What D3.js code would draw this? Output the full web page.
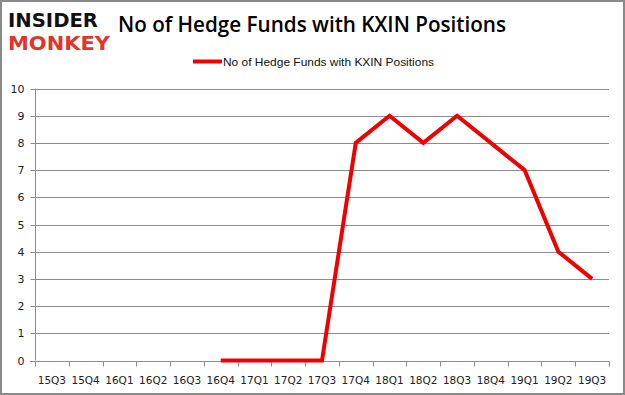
<!DOCTYPE html>
<html><head><meta charset="utf-8">
<script src="https://cdn.jsdelivr.net/npm/d3@7"></script>
<style>body{margin:0;background:#fff}svg{display:block}</style>
</head><body><svg id="c" width="625" height="395"></svg>
<script>
const categories = ["15Q3","15Q4","16Q1","16Q2","16Q3","16Q4","17Q1","17Q2","17Q3","17Q4","18Q1","18Q2","18Q3","18Q4","19Q1","19Q2","19Q3"];
const values = [null,null,null,null,null,0,0,0,0,8,9,8,9,8,7,4,3];
const yTicks = [0,1,2,3,4,5,6,7,8,9,10];
const seriesName = "No of Hedge Funds with KXIN Positions";
const titleText = "No of Hedge Funds with KXIN Positions";

const svg = d3.select("#c");
svg.append("rect").attr("x",1).attr("y",1).attr("width",623).attr("height",393)
  .attr("fill","#fff").attr("stroke","#8a8a8a").attr("stroke-width",2);

const x = d3.scaleBand().domain(categories).range([35,609]);
const y = d3.scaleLinear().domain([0,10]).range([360.5,88.5]);

// gridlines
svg.append("g").selectAll("line").data(yTicks.filter(d=>d>0)).join("line")
  .attr("x1",35).attr("x2",609).attr("y1",d=>Math.round(y(d))+0.5).attr("y2",d=>Math.round(y(d))+0.5)
  .attr("stroke","#8c8c8c").attr("stroke-width",1);

// y axis
const ya = svg.append("g").attr("transform","translate(35.5,0)")
  .call(d3.axisLeft(y).tickValues(yTicks).tickSize(5).tickPadding(6).tickFormat(d3.format("d")));
ya.select(".domain").attr("stroke","#8c8c8c").attr("d","M0,"+y(10)+"V"+y(0));
ya.selectAll(".tick line").attr("stroke","#8c8c8c");
ya.selectAll(".tick text").attr("font-family","Verdana, DejaVu Sans, sans-serif").attr("font-size","11px").attr("fill","#222");
ya.selectAll(".tick").attr("transform",d=>"translate(0,"+(Math.round(y(d))+0.5)+")");

// x axis
const xa = svg.append("g").attr("transform","translate(0,"+(Math.round(y(0))+0.5)+")");
xa.append("line").attr("x1",30).attr("x2",609).attr("stroke","#8c8c8c");
const bounds = categories.map(c=>x(c)).concat([x(categories[categories.length-1])+x.bandwidth()]);
xa.selectAll("line.t").data(bounds).join("line").attr("class","t")
  .attr("x1",d=>Math.round(d)+0.5).attr("x2",d=>Math.round(d)+0.5).attr("y1",0).attr("y2",5).attr("stroke","#8c8c8c");
xa.selectAll("text").data(categories).join("text")
  .attr("x",d=>x(d)+x.bandwidth()/2).attr("y",22).attr("text-anchor","middle")
  .attr("font-family","Verdana, DejaVu Sans, sans-serif").attr("font-size","10.5px").attr("fill","#222").text(d=>d);

// line
const pts = categories.map((c,i)=>({c,v:values[i]}));
svg.append("path").datum(pts)
  .attr("d",d3.line().defined(d=>d.v!==null).x(d=>x(d.c)+x.bandwidth()/2).y(d=>y(d.v)))
  .attr("fill","none").attr("stroke","#f00000").attr("stroke-width",4).attr("stroke-linejoin","miter");

// title
svg.append("text").attr("x",118).attr("y",32).attr("font-family","Open Sans, Liberation Sans, sans-serif")
  .attr("font-size","21px").attr("font-weight","600").attr("fill","#000").attr("textLength",388).attr("lengthAdjust","spacingAndGlyphs").text(titleText);

// legend
svg.append("line").attr("x1",193).attr("x2",222).attr("y1",61.5).attr("y2",61.5).attr("stroke","#f00000").attr("stroke-width",4);
svg.append("text").attr("x",223).attr("y",65.5).attr("font-family","Liberation Sans, Arial, sans-serif")
  .attr("font-size","11px").attr("fill","#111").attr("textLength",211).attr("lengthAdjust","spacingAndGlyphs").text(seriesName);

// logo
svg.append("text").attr("x",8).attr("y",26.5).attr("font-family","DejaVu Sans, sans-serif").attr("font-weight","bold")
  .attr("font-size","20px").attr("fill","#111").attr("textLength",90).attr("lengthAdjust","spacingAndGlyphs").text("INSIDER");
svg.append("text").attr("x",8).attr("y",50).attr("font-family","DejaVu Sans, sans-serif").attr("font-weight","bold")
  .attr("font-size","20px").attr("fill","#e2362c").attr("textLength",102).attr("lengthAdjust","spacingAndGlyphs").text("MONKEY");
</script></body></html>
